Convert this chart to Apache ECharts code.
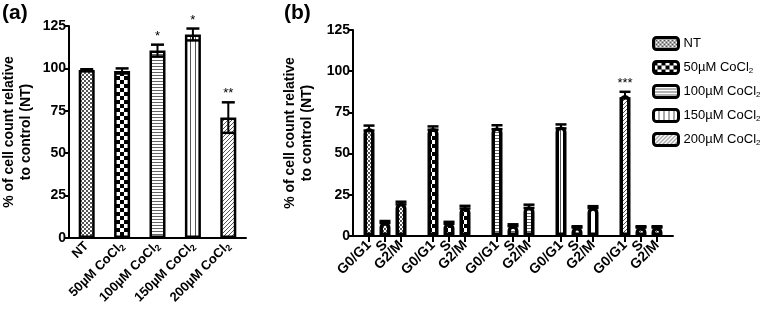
<!DOCTYPE html>
<html>
<head>
<meta charset="utf-8">
<script src="https://cdn.jsdelivr.net/npm/echarts@6/dist/echarts.min.js"></script>
<style>
  html, body { margin: 0; padding: 0; background: #fff; }
  #chart { width: 767px; height: 315px; }
</style>
</head>
<body>
<div id="chart"></div>
<script>
// panel (a) - cell count
const treatments = ['NT', '50µM CoCl2', '100µM CoCl2', '150µM CoCl2', '200µM CoCl2'];
const countMean = [99, 98.5, 110.5, 120, 71];
const countErr = [0.5, 1.5, 3.5, 3.5, 9];
const countSig = ['', '', '*', '*', '**'];

// panel (b) - cell cycle phases
const phases = ['G0/G1', 'S', 'G2/M'];
const cycleNT = [65.5, 8.5, 20];
const cycle50 = [65.5, 8, 17.5];
const cycle100 = [66, 6.5, 18];
const cycle150 = [66.5, 5.5, 17.5];
const cycle200 = [85.5, 5.5, 5.5];
const cycleErrNT = [1.5, 0.6, 0.8];
const cycleErr50 = [1, 0.6, 0.8];
const cycleErr100 = [1.2, 0.6, 1];
const cycleErr150 = [1.2, 0.4, 0.6];
const cycleErr200 = [2, 0.4, 0.4];
const cycleSig200 = ['***', '', ''];

const FONT = 'Arial, "Liberation Sans", sans-serif';

// fill patterns, one per treatment
function makePattern(w, h, draw) {
  const c = document.createElement('canvas');
  c.width = w; c.height = h;
  const ctx = c.getContext('2d');
  ctx.fillStyle = '#fff';
  ctx.fillRect(0, 0, w, h);
  draw(ctx);
  return { image: c, repeat: 'repeat' };
}
const patterns = [
  makePattern(4, 4, ctx => { ctx.fillStyle = '#555'; ctx.fillRect(0, 0, 2, 2); ctx.fillRect(2, 2, 2, 2); }),
  makePattern(8, 8, ctx => { ctx.fillStyle = '#000'; ctx.fillRect(0, 0, 4, 4); ctx.fillRect(4, 4, 4, 4); }),
  makePattern(4, 3, ctx => { ctx.fillStyle = '#666'; ctx.fillRect(0, 0, 4, 1); }),
  makePattern(5, 4, ctx => { ctx.fillStyle = '#555'; ctx.fillRect(0, 0, 1, 4); }),
  makePattern(4, 4, ctx => {
    ctx.strokeStyle = '#555'; ctx.lineWidth = 1;
    ctx.beginPath(); ctx.moveTo(-1, 5); ctx.lineTo(5, -1); ctx.stroke();
  })
];

const cycles = [cycleNT, cycle50, cycle100, cycle150, cycle200];
const cycleErrs = [cycleErrNT, cycleErr50, cycleErr100, cycleErr150, cycleErr200];

// category axis for (b): blank slot before each group
const catB = [];
treatments.forEach((t, g) => {
  catB.push(' '.repeat(g + 1));
  phases.forEach(p => catB.push(p));
});
catB.push(' '.repeat(7));
const posB = (g, k) => 1 + g * 4 + k;

const sub = s => s.replace(/Cl2$/, 'Cl{s|2}');
const richSub = { s: { fontSize: 9, fontWeight: 'bold', fontFamily: FONT, padding: [7, 0, 0, 0], verticalAlign: 'bottom' } };

function errRender(capW, sigs) {
  return function (params, api) {
    const x = api.value(0), m = api.value(1), e = api.value(2);
    const hi = api.coord([x, m + e]);
    const lo = api.coord([x, m - e]);
    const children = [
      { type: 'line', shape: { x1: hi[0], y1: hi[1], x2: lo[0], y2: lo[1] }, style: { stroke: '#000', lineWidth: 2 } },
      { type: 'line', shape: { x1: hi[0] - capW / 2, y1: hi[1], x2: hi[0] + capW / 2, y2: hi[1] }, style: { stroke: '#000', lineWidth: 2.5 } },
      { type: 'line', shape: { x1: lo[0] - capW / 2, y1: lo[1], x2: lo[0] + capW / 2, y2: lo[1] }, style: { stroke: '#000', lineWidth: 2.5 } }
    ];
    const s = sigs[params.dataIndex];
    if (s) {
      children.push({ type: 'text', style: { text: s, x: hi[0], y: hi[1] - 2, align: 'center', verticalAlign: 'bottom', fill: '#000', font: '13px ' + FONT } });
    }
    return { type: 'group', children: children };
  };
}

const yAxisCommon = {
  type: 'value', min: 0, max: 125, interval: 25,
  nameLocation: 'middle', nameRotate: 90,
  name: '% of cell count relative\nto control (NT)',
  nameTextStyle: { color: '#000', fontWeight: 'bold', fontSize: 14, fontFamily: FONT, lineHeight: 17 },
  axisLine: { show: true, lineStyle: { color: '#000', width: 2 } },
  axisTick: { show: true, length: 5, lineStyle: { color: '#000', width: 2 } },
  axisLabel: { color: '#000', fontWeight: 'bold', fontSize: 14, fontFamily: FONT, margin: 3 },
  splitLine: { show: false }
};

const seriesB = treatments.map((t, g) => {
  const data = catB.map(() => null);
  cycles[g].forEach((v, k) => { data[posB(g, k)] = v; });
  return {
    name: t, type: 'bar', xAxisIndex: 1, yAxisIndex: 1,
    barWidth: 11, barGap: '-100%', data: data,
    itemStyle: { color: patterns[g], borderColor: '#000', borderWidth: 3.5, borderRadius: [5, 5, 0, 0] }
  };
});

const errDataB = [];
const sigB = [];
cycles.forEach((arr, g) => arr.forEach((v, k) => {
  errDataB.push([posB(g, k), v, cycleErrs[g][k]]);
  sigB.push(g === 4 ? cycleSig200[k] : '');
}));

const chart = echarts.init(document.getElementById('chart'));
chart.setOption({
  animation: false,
  backgroundColor: '#fff',
  title: [
    { text: '(a)', left: 2, top: 3, padding: 0, textStyle: { fontSize: 21, fontWeight: 'bold', fontFamily: FONT, color: '#000' } },
    { text: '(b)', left: 284, top: 3, padding: 0, textStyle: { fontSize: 21, fontWeight: 'bold', fontFamily: FONT, color: '#000' } }
  ],
  legend: {
    orient: 'vertical', left: 647, top: 31, itemGap: 9,
    itemWidth: 25, itemHeight: 12, icon: 'roundRect',
    data: treatments,
    itemStyle: { borderColor: '#000', borderWidth: 3 },
    formatter: sub,
    textStyle: { color: '#000', fontSize: 13, fontFamily: FONT, rich: { s: { fontSize: 8, fontFamily: FONT, padding: [7, 0, 0, 0], verticalAlign: 'bottom' } } }
  },
  grid: [
    { left: 69, top: 26, width: 177, height: 212 },
    { left: 353, top: 30, width: 320, height: 206 }
  ],
  xAxis: [
    {
      type: 'category', gridIndex: 0, data: treatments,
      axisLine: { lineStyle: { color: '#000', width: 2 } },
      axisTick: { alignWithLabel: true, length: 5, lineStyle: { color: '#000', width: 2 } },
      axisLabel: { interval: 0, rotate: 45, color: '#000', fontWeight: 'bold', fontSize: 13, fontFamily: FONT, margin: 6, formatter: sub, rich: richSub }
    },
    {
      type: 'category', gridIndex: 1, data: catB, boundaryGap: false,
      axisLine: { lineStyle: { color: '#000', width: 2 } },
      axisTick: { length: 6, interval: (i, v) => v.trim() !== '', lineStyle: { color: '#000', width: 2 } },
      axisLabel: { interval: 0, rotate: 45, color: '#000', fontWeight: 'bold', fontSize: 14, fontFamily: FONT, margin: 7 }
    }
  ],
  yAxis: [
    Object.assign({}, yAxisCommon, { gridIndex: 0, nameGap: 34 }),
    Object.assign({}, yAxisCommon, { gridIndex: 1, nameGap: 37 })
  ],
  series: [
    {
      name: 'count', type: 'bar', xAxisIndex: 0, yAxisIndex: 0, barWidth: 16,
      data: countMean.map((v, i) => ({ value: v, itemStyle: { color: patterns[i] } })),
      itemStyle: { borderColor: '#000', borderWidth: 2.5 }
    },
    {
      type: 'custom', xAxisIndex: 0, yAxisIndex: 0, z: 5,
      renderItem: errRender(13, countSig),
      data: countMean.map((v, i) => [i, v, countErr[i]])
    },
    ...seriesB,
    {
      type: 'custom', xAxisIndex: 1, yAxisIndex: 1, z: 5,
      renderItem: errRender(11, sigB),
      data: errDataB
    }
  ]
});
</script>
</body>
</html>
